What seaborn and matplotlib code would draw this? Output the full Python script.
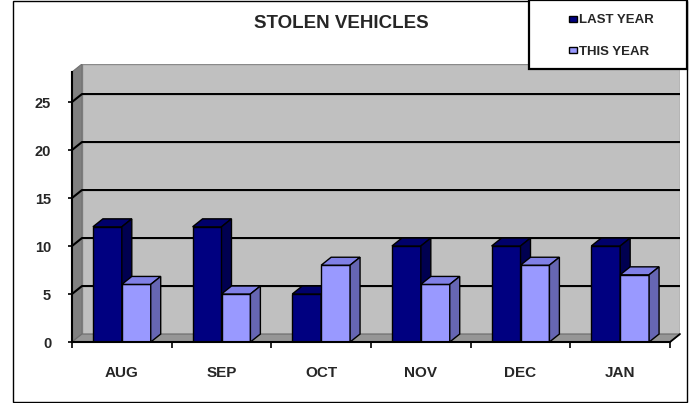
import pandas as pd
import matplotlib.pyplot as plt
import seaborn as sns
from matplotlib.patches import Polygon, Rectangle, Patch

months = ['AUG', 'SEP', 'OCT', 'NOV', 'DEC', 'JAN']
last_year = [12, 12, 5, 10, 10, 10]
this_year = [6, 5, 8, 6, 8, 7]
series = ['LAST YEAR', 'THIS YEAR']
yticks = [0, 5, 10, 15, 20, 25]

df = pd.DataFrame({
    'month': months * 2,
    'count': last_year + this_year,
    'period': [series[0]] * 6 + [series[1]] * 6,
})

front = {'LAST YEAR': '#000080', 'THIS YEAR': '#9999FF'}
top_c = {'LAST YEAR': '#00006A', 'THIS YEAR': '#8080E6'}
side_c = {'LAST YEAR': '#000050', 'THIS YEAR': '#6666B3'}

sns.set_theme(style='white')
plt.rcParams['font.family'] = ['Liberation Sans', 'DejaVu Sans']

fig = plt.figure(figsize=(6.94, 4.03), dpi=100)
ax = fig.add_axes([72 / 694, 1 - 342 / 403, 608 / 694, 278 / 403])

# depth of the fake 3d effect, in data units
dx, dy = 0.1, 0.83
ytop = 28.96
x0, x1 = -0.5, 5.5

sns.barplot(data=df, x='month', y='count', hue='period', palette=front,
            width=0.58, gap=0, saturation=1, edgecolor='black', linewidth=1,
            legend=False, ax=ax, zorder=3)

# walls and floor
ax.add_patch(Polygon([(x0 + dx, dy), (x1 + dx, dy), (x1 + dx, ytop), (x0 + dx, ytop)],
                     facecolor='#C0C0C0', edgecolor='#8A8A8A', lw=1, zorder=0.5))
ax.add_patch(Polygon([(x0, 0), (x0 + dx, dy), (x0 + dx, ytop), (x0, ytop - dy)],
                     facecolor='#808080', edgecolor='#707070', lw=0.8, zorder=0.6))
ax.add_patch(Polygon([(x0, 0), (x1, 0), (x1 + dx, dy), (x0 + dx, dy)],
                     facecolor='#969696', edgecolor='#6E6E6E', lw=0.8, zorder=0.6))
ax.plot([x1, x1 + dx], [0, dy], color='black', lw=1.3, zorder=2, clip_on=False)

for v in yticks[1:]:
    ax.plot([x0, x0 + dx, x1 + dx], [v, v + dy, v + dy], color='black', lw=1.5, zorder=1)

# 3d sides and tops of bars
for i, p in enumerate(ax.patches[:12]):
    name = series[0] if i < 6 else series[1]
    z = 3 if i < 6 else 4
    p.set_zorder(z)
    bx, w, h = p.get_x(), p.get_width(), p.get_height()
    ax.add_patch(Polygon([(bx, h), (bx + w, h), (bx + w + dx, h + dy), (bx + dx, h + dy)],
                         facecolor=top_c[name], edgecolor='black', lw=1, zorder=z))
    ax.add_patch(Polygon([(bx + w, 0), (bx + w + dx, dy), (bx + w + dx, h + dy), (bx + w, h)],
                         facecolor=side_c[name], edgecolor='black', lw=1, zorder=z))

ax.set_xlim(x0, x1 + dx)
ax.set_ylim(0, ytop)

for s in ['top', 'right']:
    ax.spines[s].set_visible(False)
ax.spines['left'].set_bounds(0, ytop - dy)
ax.spines['bottom'].set_bounds(x0, x1)
for s in ['left', 'bottom']:
    ax.spines[s].set_color('black')
    ax.spines[s].set_linewidth(1.5)
    ax.spines[s].set_zorder(5)

ax.set_yticks(yticks)
ax.set_yticklabels([str(v) for v in yticks], fontsize=10.5, fontweight='bold')
ax.tick_params(axis='y', direction='out', length=3, width=1.2, color='black', pad=12, left=True)
ax.set_xticks(range(6))
ax.set_xticklabels(months, fontsize=11, fontweight='bold')
ax.set_xticks([x0 + k for k in range(7)], minor=True)
ax.tick_params(axis='x', which='major', length=0, pad=17)
ax.tick_params(axis='x', which='minor', direction='out', length=4, width=1.2, color='black', bottom=True)
ax.set_xlabel(None)
ax.set_ylabel(None)
ax.grid(False)

fig.text(341 / 694, 1 - 24 / 403, 'STOLEN VEHICLES', ha='center', va='center',
         fontsize=13.5, fontweight='bold')

# chart border and legend box
fig.patches.append(Rectangle((13 / 694, 1 / 403), 674 / 694, 401 / 403, transform=fig.transFigure,
                             fill=False, edgecolor='black', lw=1))
fig.patches.append(Rectangle((529 / 694, 1 - 69 / 403), 158 / 694, 69 / 403, transform=fig.transFigure,
                             facecolor='white', edgecolor='black', lw=1.6, zorder=5))

handles = [Patch(facecolor=front[s], edgecolor='black', lw=1) for s in series]
leg = fig.legend(handles, series, loc='center', bbox_to_anchor=(611 / 694, 1 - 36 / 403),
                 frameon=False, handlelength=0.6, handleheight=0.35, handletextpad=0.15,
                 labelspacing=1.45, prop={'size': 9.5, 'weight': 'bold'})
leg.set_zorder(6)

plt.savefig('out.png', dpi=100)
